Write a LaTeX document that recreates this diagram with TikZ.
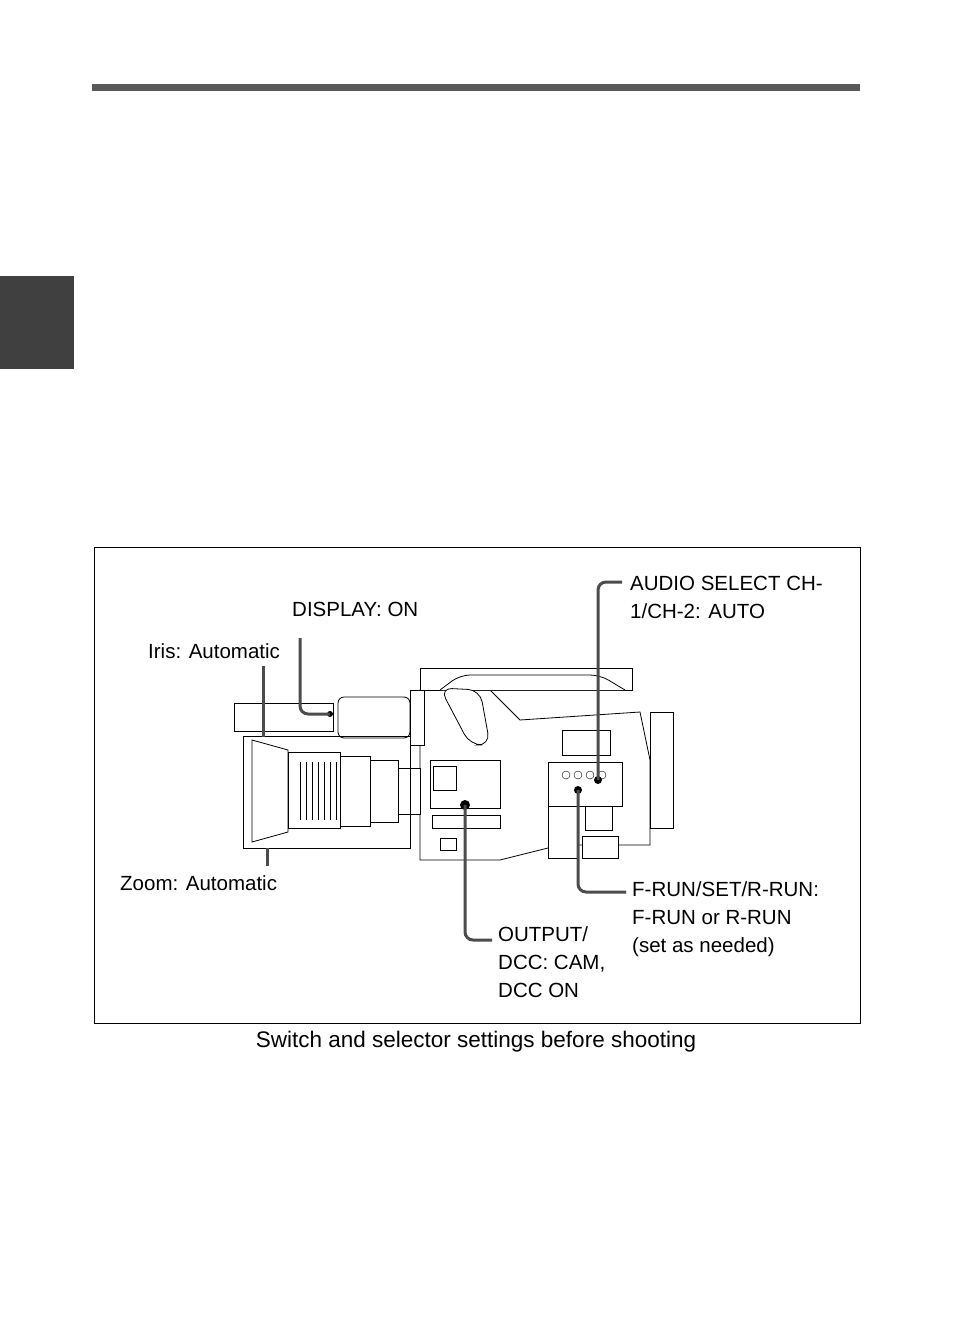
\documentclass[tikz,border=0pt]{standalone}
\usepackage{fontspec}
\setmainfont{Liberation Sans}
\usetikzlibrary{calc}
\tikzset{
  lbl/.style={anchor=north west, align=left, inner sep=0pt, font=\fontsize{20.5}{28}\selectfont},
  lead/.style={draw=black!70, line width=3pt, rounded corners=8pt},
  part/.style={draw, line width=0.8pt, fill=white}
}
\begin{document}
\begin{tikzpicture}[x=1pt,y=-1pt]
\useasboundingbox (0,0) rectangle (954,1324);
% page marks
\fill[black!65] (92,84) rectangle (860,91);
\fill[black!75] (0,276) rectangle (74,369);
\draw[line width=0.8pt] (94,547) rectangle (860,1023);
\node[inner sep=0pt, font=\fontsize{22.5}{26}\selectfont] (cap) at (476,1042) {Switch and selector settings before shooting};

% camera body
\begin{scope}
  \draw[part] (420,690) -- (420,860) -- (500,860) -- (560,845) -- (650,845) -- (650,760) -- (640,712) -- (520,720) -- (490,690) -- cycle;
  \draw[part] (420,668) rectangle (632,690);
  \draw[part, rounded corners=10pt] (440,690) -- (460,675) -- (600,675) -- (625,690);
  \draw[part] (650,712) rectangle (673,828);
  \draw[part] (234,703) rectangle (333,731);
  \draw[part, rounded corners=6pt] (338,697) rectangle (410,738);
  \draw[part] (410,690) rectangle (424,745);
  \draw[part, rounded corners=12pt] (440,688) -- (470,745) -- (490,745) -- (480,690) -- cycle;
  \draw[part] (562,730) rectangle (610,755);
  \draw[part] (430,760) rectangle (500,808);
  \draw[part] (433,766) rectangle (456,790);
  \draw[part] (548,762) rectangle (622,806);
  \draw[part] (548,806) rectangle (578,858);
  \draw[part] (585,806) rectangle (612,830);
  \draw[part] (582,836) rectangle (618,858);
  \draw[part] (432,815) rectangle (500,828);
  \draw[part] (440,838) rectangle (456,850);
  % lens
  \draw[part] (252,740) -- (288,750) -- (288,832) -- (252,842) -- cycle;
  \draw[part] (288,752) rectangle (340,828);
  \foreach \x in {300,306,...,336}
    \draw[line width=0.4pt] (\x,762) -- (\x,820);
  \draw[part] (340,756) rectangle (370,826);
  \draw[part] (370,760) rectangle (398,822);
  \draw[part] (398,768) rectangle (420,814);
  \draw[line width=0.8pt] (243,736) rectangle (410,848);
  \foreach \x in {566,578,590,602}
    \draw (\x,775) circle (4pt);
  \fill (465,805) circle (5pt);
  \fill (578,790) circle (4pt);
  \fill (598,780) circle (4pt);
  \fill (330,714) circle (3pt);
\end{scope}

% labels
\node[lbl] (aud) at (630,576) {AUDIO SELECT CH-\\1/CH-2: AUTO};
\node[lbl] (disp) at (292,602) {DISPLAY: ON};
\node[lbl] (iris) at (148,643) {Iris: Automatic};
\node[lbl] (zoom) at (120,875) {Zoom: Automatic};
\node[lbl] (frun) at (632,881) {F-RUN/SET/R-RUN:\\F-RUN or R-RUN\\(set as needed)};
\node[lbl] (outp) at (498,926) {OUTPUT/\\DCC: CAM,\\DCC ON};

% leaders
\coordinate (dispEnd) at (330,714);
\coordinate (audEnd) at (598,780);
\coordinate (frunEnd) at (578,790);
\coordinate (outEnd) at (465,805);
\draw[lead] (300,638) -- (300,714) -- (dispEnd);
\draw[lead] (263,666) -- (263,737);
\draw[lead] (267,848) -- (267,866);
\draw[lead] (622,582) -- (598,582) -- (audEnd);
\draw[lead] (frunEnd) -- (578,892) -- (626,892);
\draw[lead] (outEnd) -- (465,940) -- (492,940);
\end{tikzpicture}
\end{document}
